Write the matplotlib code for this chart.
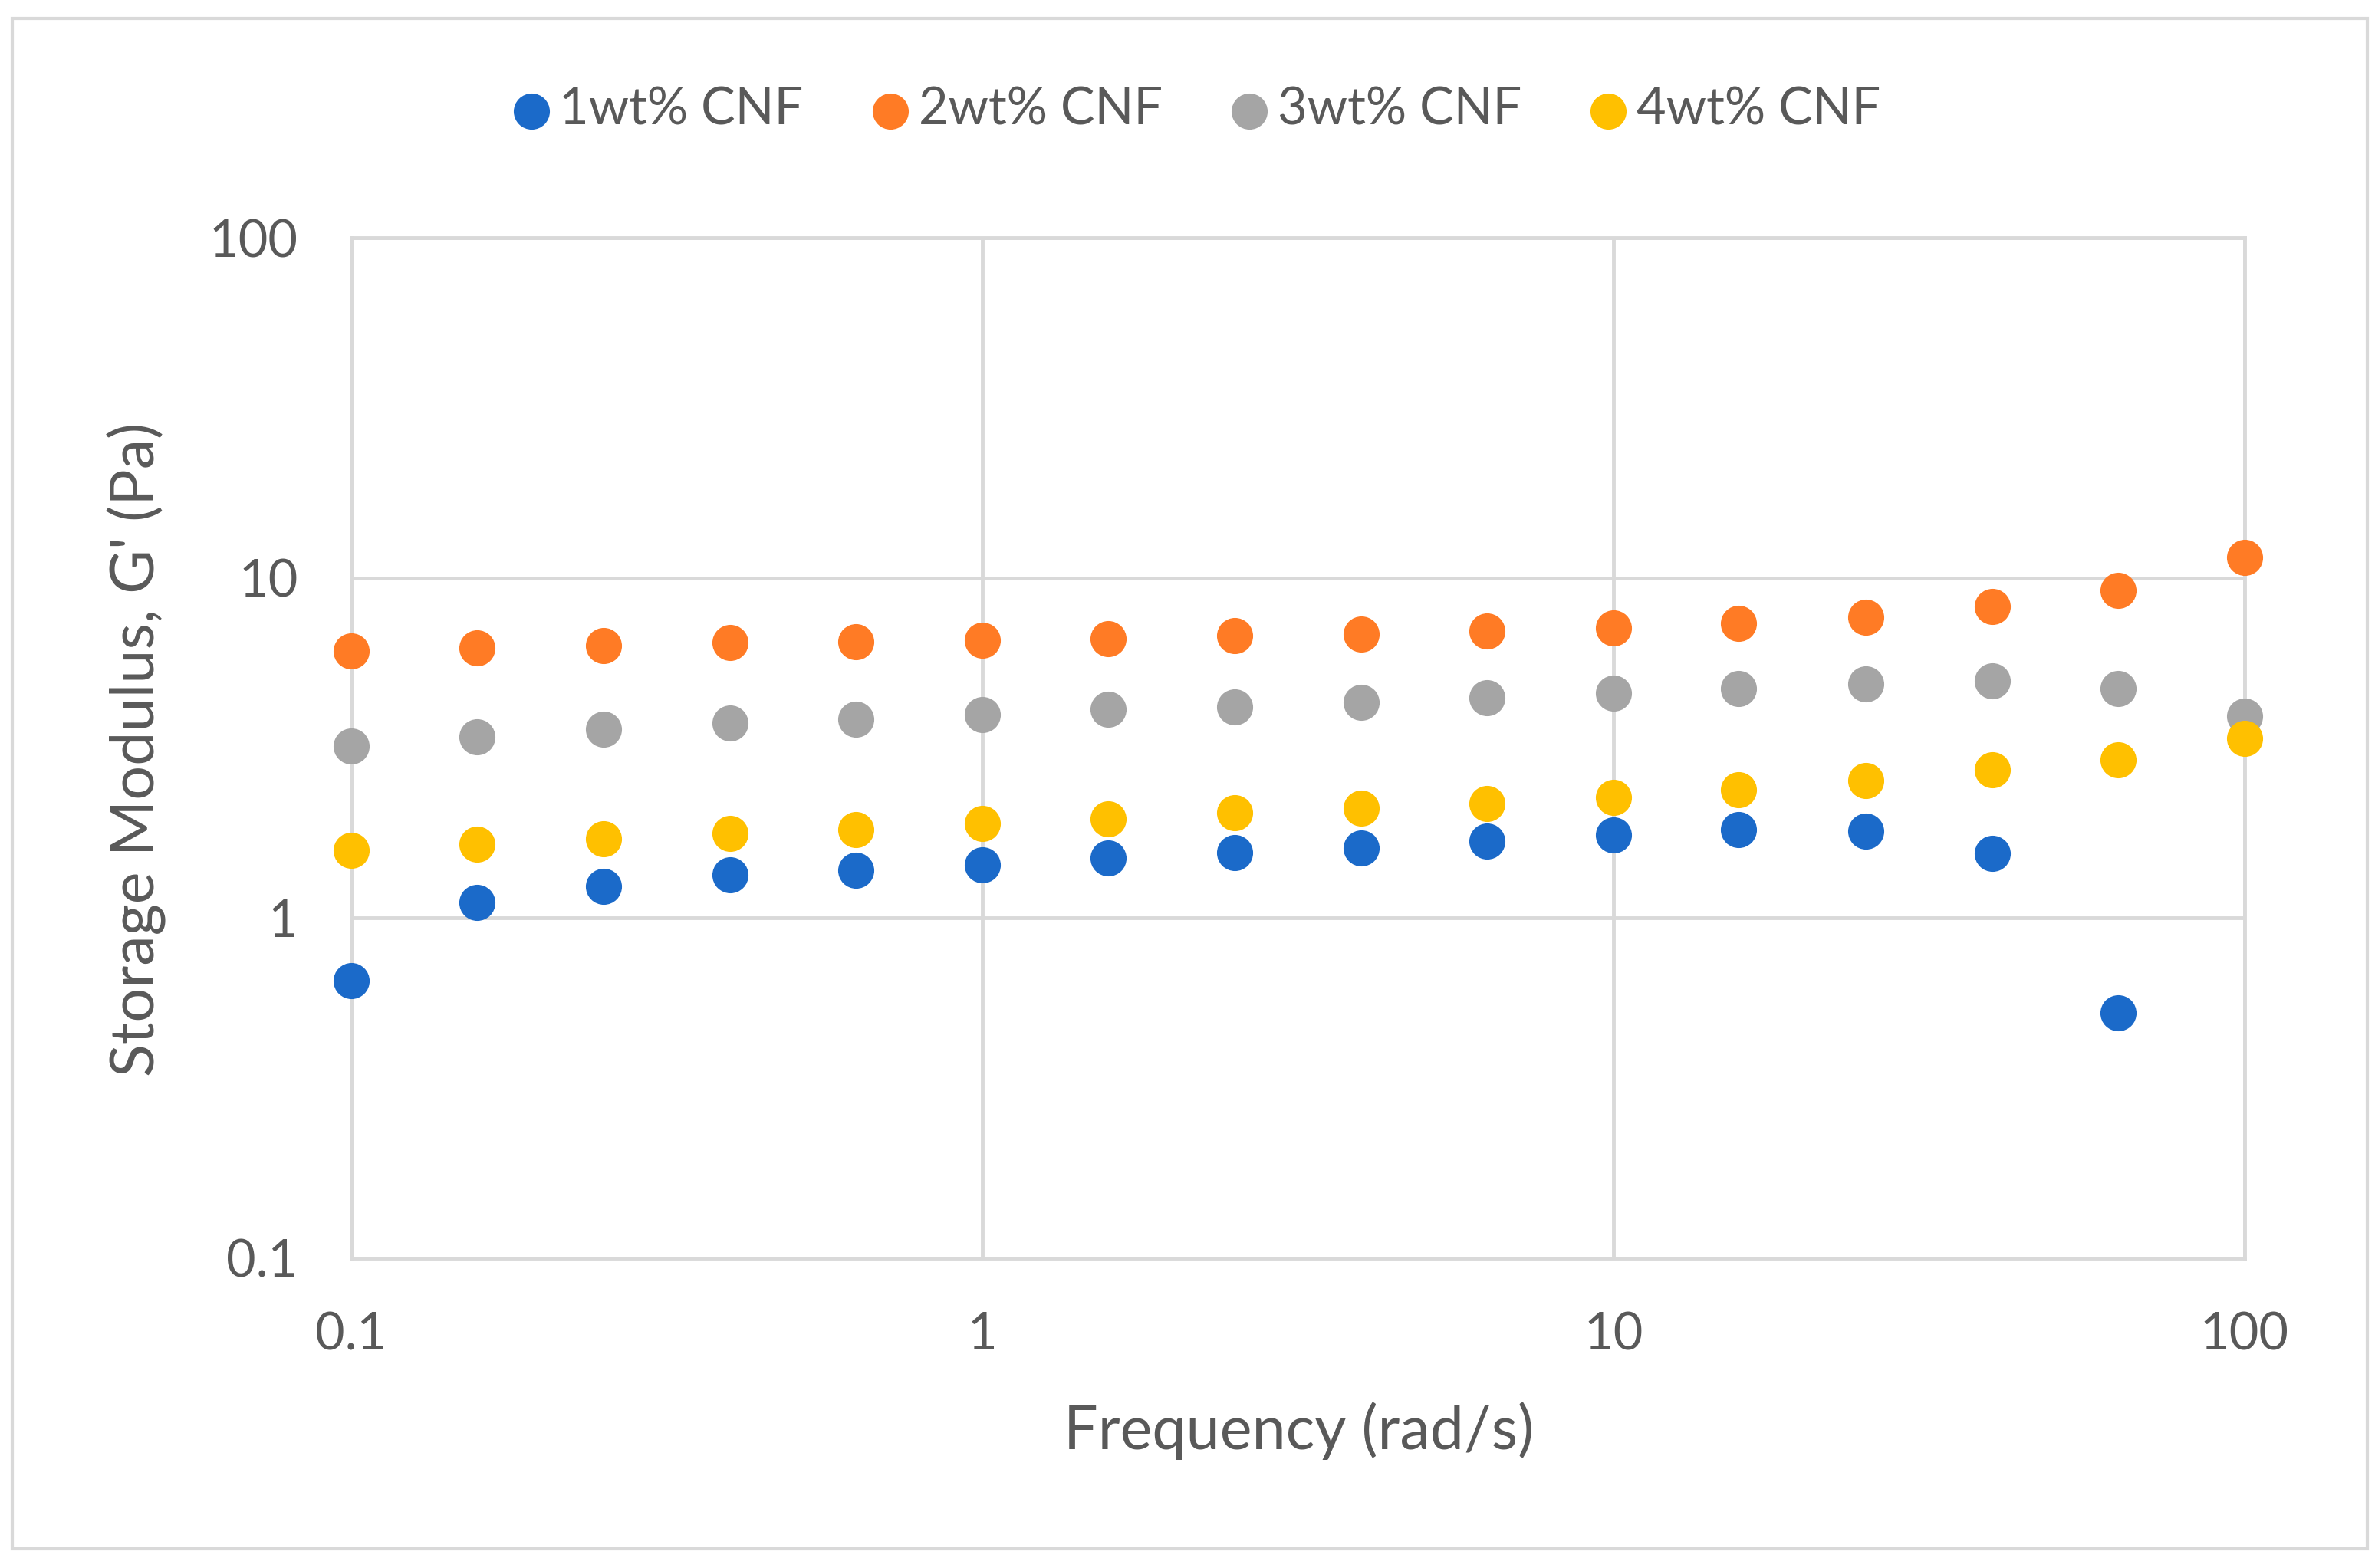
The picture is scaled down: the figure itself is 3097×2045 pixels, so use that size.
import numpy as np
import matplotlib
matplotlib.use('Agg')
import matplotlib.pyplot as plt
from matplotlib.patches import Rectangle

# data (log-spaced sweep, 5 points per decade)
freq = [0.1, 0.158, 0.251, 0.398, 0.631, 1.0, 1.58, 2.51, 3.98, 6.31,
        10.0, 15.8, 25.1, 39.8, 63.1, 100.0]

g_1wt = [0.654, 1.11, 1.24, 1.34, 1.38, 1.43, 1.50, 1.56, 1.61, 1.68,
         1.75, 1.82, 1.80, 1.55, 0.527]
g_2wt = [6.11, 6.24, 6.31, 6.44, 6.50, 6.57, 6.64, 6.78, 6.85, 6.98,
         7.13, 7.35, 7.66, 8.23, 9.21, 11.5]
g_3wt = [3.20, 3.41, 3.59, 3.74, 3.85, 3.97, 4.10, 4.18, 4.31, 4.45,
         4.58, 4.73, 4.88, 4.98, 4.73, 3.93]
g_4wt = [1.58, 1.65, 1.71, 1.77, 1.82, 1.90, 1.96, 2.04, 2.10, 2.17,
         2.26, 2.38, 2.53, 2.72, 2.92, 3.37]

labels = ['1wt% CNF', '2wt% CNF', '3wt% CNF', '4wt% CNF']
colors = ['#1B6AC9', '#FF7B25', '#A5A5A5', '#FFC000']
series = [g_1wt, g_2wt, g_3wt, g_4wt]

text_col = '#595959'
grid_col = '#D9D9D9'
plt.rcParams['font.family'] = ['Lato', 'DejaVu Sans']

fig = plt.figure(figsize=(30.97, 20.45), dpi=100)
ax = fig.add_axes([0.1479, 0.1976, 0.9451 - 0.1479, 0.8484 - 0.1976])

for vals, col, lab in zip(series, colors, labels):
    ax.scatter(freq[:len(vals)], vals, s=1150, color=col, label=lab,
               linewidths=0, zorder=3, clip_on=False)

ax.set_xscale('log')
ax.set_yscale('log')
ax.set_xlim(0.1, 100)
ax.set_ylim(0.1, 100)
ax.set_xticks([0.1, 1, 10, 100])
ax.set_xticklabels(['0.1', '1', '10', '100'])
ax.set_yticks([0.1, 1, 10, 100])
ax.set_yticklabels(['0.1', '1', '10', '100'])
ax.minorticks_off()
ax.tick_params(axis='both', length=0, labelsize=48, labelcolor=text_col)
ax.tick_params(axis='x', pad=50)
ax.tick_params(axis='y', pad=50)
ax.grid(True, color=grid_col, linewidth=3.5, zorder=0)
for sp in ax.spines.values():
    sp.set_color(grid_col)
    sp.set_linewidth(3.5)

fig.text(0.5467, 0.0875, 'Frequency (rad/s)', ha='center', va='center',
         fontsize=57, color=text_col)
fig.text(0.0575, 0.5218, "Storage Modulus, G' (Pa)", ha='center', va='center',
         rotation=90, fontsize=57, color=text_col)

fig.legend(loc='center', bbox_to_anchor=(0.504, 0.9296), ncol=4, frameon=False,
           fontsize=48, labelcolor=text_col, handlelength=0.7, handletextpad=0.2,
           columnspacing=1.35, markerscale=1.0)

fig.patches.append(Rectangle((0.0052, 0.0122), 0.9916, 0.976, transform=fig.transFigure,
                             fill=False, edgecolor=grid_col, linewidth=3))

plt.savefig('out.png', dpi=100)
plt.close()
